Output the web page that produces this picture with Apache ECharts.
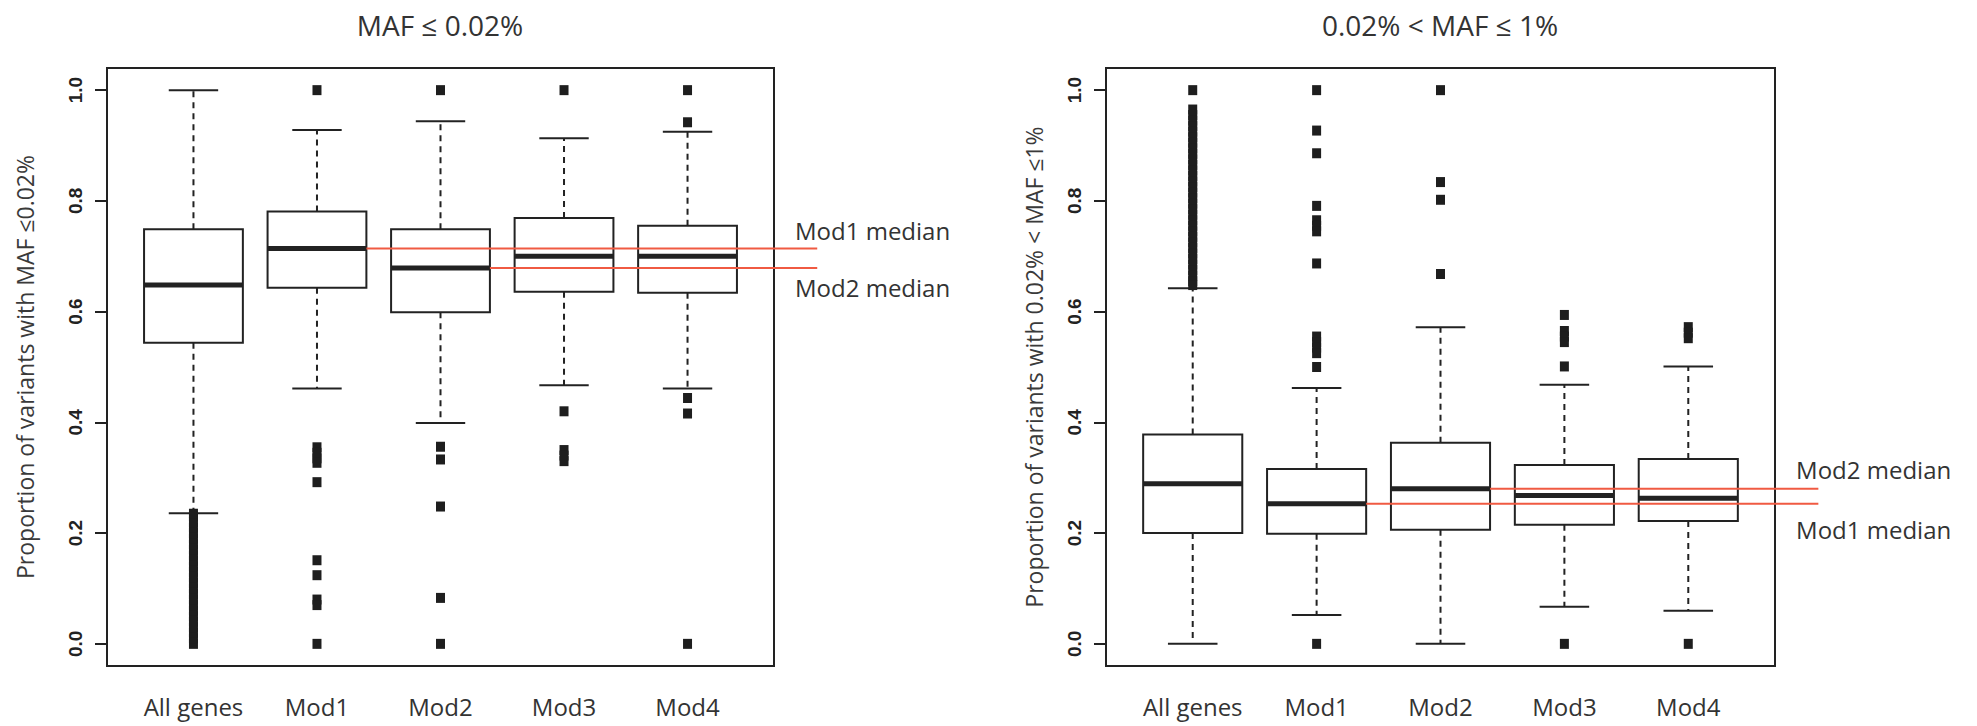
<!DOCTYPE html>
<html>
<head>
<meta charset="utf-8">
<script src="https://cdn.jsdelivr.net/npm/echarts@6/dist/echarts.min.js"></script>
<style>
html,body{margin:0;padding:0;background:#fff;}
#chart{width:1977px;height:726px;}
</style>
</head>
<body>
<div id="chart"></div>
<script>
// ---------- data ----------
const categories = ['All genes', 'Mod1', 'Mod2', 'Mod3', 'Mod4'];
const yTicks = [0, 0.2, 0.4, 0.6, 0.8, 1.0];

const titleRare = 'MAF \u2264 0.02%';
const titleLow = '0.02% < MAF \u2264 1%';
const yNameRare = 'Proportion of variants with MAF \u22640.02%';
const yNameLow = 'Proportion of variants with 0.02% < MAF \u22641%';

// [lower whisker, Q1, median, Q3, upper whisker]
const rareBoxes = [
  [0.236, 0.544, 0.648, 0.749, 1.000],
  [0.461, 0.643, 0.714, 0.781, 0.928],
  [0.399, 0.599, 0.679, 0.749, 0.944],
  [0.467, 0.636, 0.700, 0.769, 0.913],
  [0.461, 0.634, 0.700, 0.755, 0.925]
];
const rareOutAll = [0.000, 0.010, 0.020, 0.030, 0.040, 0.050, 0.060, 0.070, 0.080, 0.090, 0.100, 0.110,
  0.120, 0.130, 0.140, 0.150, 0.160, 0.170, 0.180, 0.190, 0.200, 0.210, 0.220, 0.230, 0.235];
const rareOutMod1 = [1.000, 0.355, 0.345, 0.335, 0.327, 0.292, 0.151, 0.124, 0.080, 0.070, 0.000];
const rareOutMod2 = [1.000, 0.356, 0.333, 0.248, 0.083, 0.000];
const rareOutMod3 = [1.000, 0.420, 0.350, 0.340, 0.330];
const rareOutMod4 = [1.000, 0.942, 0.444, 0.416, 0.000];

const lowBoxes = [
  [0.000, 0.200, 0.289, 0.378, 0.642],
  [0.052, 0.199, 0.253, 0.316, 0.462],
  [0.000, 0.206, 0.280, 0.363, 0.572],
  [0.067, 0.215, 0.268, 0.323, 0.468],
  [0.060, 0.222, 0.263, 0.334, 0.501]
];
const lowOutAll = [1.000, 0.965, 0.955, 0.945, 0.935, 0.925, 0.915, 0.905, 0.895, 0.885, 0.875, 0.865,
  0.855, 0.845, 0.835, 0.825, 0.815, 0.805, 0.795, 0.785, 0.775, 0.765, 0.755, 0.745, 0.735,
  0.725, 0.715, 0.705, 0.695, 0.685, 0.675, 0.665, 0.655, 0.648];
const lowOutMod1 = [1.000, 0.927, 0.886, 0.791, 0.765, 0.755, 0.745, 0.687, 0.555, 0.545, 0.535, 0.525, 0.500, 0.000];
const lowOutMod2 = [1.000, 0.834, 0.802, 0.668];
const lowOutMod3 = [0.594, 0.565, 0.555, 0.545, 0.501, 0.000];
const lowOutMod4 = [0.572, 0.562, 0.552, 0.000];

const medianRefNames = ['Mod1 median', 'Mod2 median'];
const medianRefCats = [1, 2]; // index into categories

// ---------- build ----------
const INK = '#222';
const RED = '#f05a42';
const LINE_END = 6.05;

function boxData(boxes) { return boxes.map((b, i) => [i + 1].concat(b)); }
function outData(lists) {
  const out = [];
  lists.forEach((vals, i) => vals.forEach(v => out.push([i + 1, v])));
  return out;
}
function refData(boxes) {
  const meds = medianRefCats.map(c => boxes[c][2]);
  return medianRefCats.map((c, k) => {
    const other = meds[1 - k];
    return [c + 1 + 0.4, LINE_END, meds[k], meds[k] >= other ? 1 : -1, k];
  });
}

function renderBox(params, api) {
  const x = api.value(0);
  const lo = api.value(1), q1 = api.value(2), med = api.value(3), q3 = api.value(4), hi = api.value(5);
  const halfBox = api.size([0.4, 0])[0];
  const halfCap = api.size([0.2, 0])[0];
  const pLo = api.coord([x, lo]), pQ1 = api.coord([x, q1]), pMed = api.coord([x, med]);
  const pQ3 = api.coord([x, q3]), pHi = api.coord([x, hi]);
  const cx = pQ1[0];
  const dash = { stroke: INK, lineWidth: 2, lineDash: [6, 5] };
  const solid = { stroke: INK, lineWidth: 2 };
  return {
    type: 'group',
    children: [
      { type: 'line', shape: { x1: cx, y1: pQ3[1], x2: cx, y2: pHi[1] }, style: dash },
      { type: 'line', shape: { x1: cx, y1: pQ1[1], x2: cx, y2: pLo[1] }, style: dash },
      { type: 'line', shape: { x1: cx - halfCap, y1: pHi[1], x2: cx + halfCap, y2: pHi[1] }, style: solid },
      { type: 'line', shape: { x1: cx - halfCap, y1: pLo[1], x2: cx + halfCap, y2: pLo[1] }, style: solid },
      { type: 'rect', shape: { x: cx - halfBox, y: pQ3[1], width: 2 * halfBox, height: pQ1[1] - pQ3[1] },
        style: { fill: '#fff', stroke: INK, lineWidth: 2 } },
      { type: 'line', shape: { x1: cx - halfBox, y1: pMed[1], x2: cx + halfBox, y2: pMed[1] },
        style: { stroke: INK, lineWidth: 5 } }
    ]
  };
}

function makeRefRender(gapAbove, gapBelow) {
  return function (params, api) {
    const x0 = api.value(0), x1 = api.value(1), y = api.value(2), side = api.value(3), k = api.value(4);
    const p0 = api.coord([x0, y]), p1 = api.coord([x1, y]);
    const back = api.size([0.18, 0])[0];
    return {
      type: 'group',
      children: [
        { type: 'line', shape: { x1: p0[0], y1: p0[1], x2: p1[0], y2: p1[1] }, style: { stroke: RED, lineWidth: 2 } },
        { type: 'text', x: p1[0] - back, y: side > 0 ? p1[1] - gapAbove : p1[1] + gapBelow,
          style: { text: medianRefNames[k], fill: '#333', font: '24px "Open Sans"',
            align: 'left', verticalAlign: side > 0 ? 'bottom' : 'top' } }
      ]
    };
  };
}

function xAxisCfg(gi) {
  return {
    gridIndex: gi, type: 'value', min: 0.3, max: 5.7,
    axisLine: { show: false }, axisTick: { show: false }, splitLine: { show: false },
    axisLabel: {
      customValues: [1, 2, 3, 4, 5],
      formatter: v => categories[Math.round(v) - 1],
      margin: 28, fontSize: 24, fontFamily: 'Open Sans', color: '#333'
    }
  };
}
function yAxisCfg(gi, name, gap) {
  return {
    gridIndex: gi, type: 'value', min: -0.04, max: 1.04,
    name: name, nameLocation: 'middle', nameRotate: 90, nameGap: gap,
    nameTextStyle: { fontSize: 23, fontFamily: 'Open Sans', color: '#3a3a3a' },
    axisLine: { show: false }, splitLine: { show: false },
    axisTick: { show: true, customValues: yTicks, length: 12, lineStyle: { color: INK, width: 2 } },
    axisLabel: {
      customValues: yTicks, rotate: 90, margin: 22,
      formatter: v => v.toFixed(1),
      fontSize: 19, fontWeight: 'bold', fontFamily: 'Liberation Sans', color: INK
    }
  };
}

const outStyle = { color: '#1e1e1e', opacity: 1 };

const chart = echarts.init(document.getElementById('chart'), null, { renderer: 'svg' });
chart.setOption({
  backgroundColor: '#fff',
  animation: false,
  grid: [
    { left: 107, top: 68, width: 667, height: 598, show: true, borderColor: INK, borderWidth: 2, backgroundColor: 'transparent' },
    { left: 1106, top: 68, width: 669, height: 598, show: true, borderColor: INK, borderWidth: 2, backgroundColor: 'transparent' }
  ],
  xAxis: [xAxisCfg(0), xAxisCfg(1)],
  yAxis: [yAxisCfg(0, yNameRare, 71), yAxisCfg(1, yNameLow, 61)],
  graphic: [
    { type: 'text', x: 440, y: 25, style: { text: titleRare, font: '28px "Open Sans"', fill: '#333', align: 'center', verticalAlign: 'middle' } },
    { type: 'text', x: 1440, y: 25, style: { text: titleLow, font: '28px "Open Sans"', fill: '#333', align: 'center', verticalAlign: 'middle' } }
  ],
  series: [
    { type: 'custom', xAxisIndex: 0, yAxisIndex: 0, renderItem: renderBox, data: boxData(rareBoxes), z: 2 },
    { type: 'scatter', xAxisIndex: 0, yAxisIndex: 0, symbol: 'rect', symbolSize: [9, 10],
      itemStyle: outStyle, data: outData([rareOutAll, rareOutMod1, rareOutMod2, rareOutMod3, rareOutMod4]), z: 3 },
    { type: 'custom', xAxisIndex: 0, yAxisIndex: 0, renderItem: makeRefRender(6, 8), data: refData(rareBoxes), z: 4, clip: false },
    { type: 'custom', xAxisIndex: 1, yAxisIndex: 1, renderItem: renderBox, data: boxData(lowBoxes), z: 2 },
    { type: 'scatter', xAxisIndex: 1, yAxisIndex: 1, symbol: 'rect', symbolSize: [9, 10],
      itemStyle: outStyle, data: outData([lowOutAll, lowOutMod1, lowOutMod2, lowOutMod3, lowOutMod4]), z: 3 },
    { type: 'custom', xAxisIndex: 1, yAxisIndex: 1, renderItem: makeRefRender(7, 14), data: refData(lowBoxes), z: 4, clip: false }
  ]
});
</script>
</body>
</html>
